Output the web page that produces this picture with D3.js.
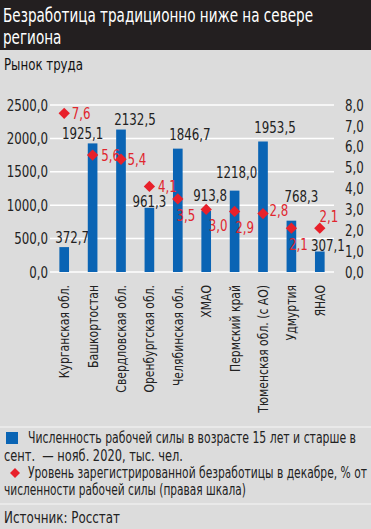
<!DOCTYPE html>
<html>
<head>
<meta charset="utf-8">
<script src="https://cdn.jsdelivr.net/npm/d3@7"></script>
<style>
  body { margin: 0; background: #dcdcdc; }
  svg text { font-family: "DejaVu Sans Condensed", "Liberation Sans Narrow", "Roboto", sans-serif; }
</style>
</head>
<body>
<script>
var regions = ["Курганская обл.", "Башкортостан", "Свердловская обл.", "Оренбургская обл.",
    "Челябинская обл.", "ХМАО", "Пермский край", "Тюменская обл.  (с АО)", "Удмуртия", "ЯНАО"];
var labour = [372.7, 1925.1, 2132.5, 961.3, 1846.7, 913.8, 1218.0, 1953.5, 768.3, 307.1];
var unemp = [7.6, 5.6, 5.4, 4.1, 3.5, 3.0, 2.9, 2.8, 2.1, 2.1];
var leftTicks = [0, 500, 1000, 1500, 2000, 2500];
var rightTicks = [0, 1, 2, 3, 4, 5, 6, 7, 8];

// подписи сдвинуты вручную, как в оригинале
var barLabelShift = [[8, -10], [-10, -10], [14, -10], [0, -6], [12, -14], [4, -16], [2, -18], [12, -14], [10, -24], [8, -6]];
var dotLabelShift = [[17, 0], [18, 0], [16, 0], [18, 0], [8, 16], [12, 16], [10, 16], [16, -3], [7, 16], [9, -12]];

var W = 371, H = 529;
var fmt = function(v, n){ return v.toFixed(n).replace(".", ","); };

// сжимаем шрифт по горизонтали (в оригинале узкий шрифт)
function squish(sel, k){
    sel.each(function(){
        var l = this.getComputedTextLength();
        d3.select(this).attr("textLength", l * k).attr("lengthAdjust", "spacingAndGlyphs");
    });
}
function fitTo(sel, w){
    sel.attr("textLength", w).attr("lengthAdjust", "spacingAndGlyphs");
}

var svg = d3.select("body").append("svg")
    .attr("width", W)
    .attr("height", H);

svg.append("rect").attr("width", W).attr("height", H).attr("fill", "#dcdcdc");

// шапка
svg.append("rect").attr("width", W).attr("height", 50).attr("fill", "#231f20");
var t1 = svg.append("text").text("Безработица традиционно ниже на севере")
    .attr("x", 3).attr("y", 22).attr("fill", "#fff").attr("font-size", 20);
var k = 310 / t1.node().getComputedTextLength();
fitTo(t1, 310);
squish(svg.append("text").text("региона")
    .attr("x", 3).attr("y", 44).attr("fill", "#fff").attr("font-size", 20), k);
fitTo(svg.append("text").text("Рынок труда")
    .attr("x", 4).attr("y", 70).attr("fill", "#111").attr("font-size", 16), 79);

var x = d3.scaleBand().domain(regions).range([50, 334]).paddingInner(0.66).paddingOuter(0.33);
var yL = d3.scaleLinear().domain([0, 2500]).range([272, 105]);
var yR = d3.scaleLinear().domain([0, 8]).range([272, 105]);

// сетка
svg.append("g").selectAll("line")
    .data(leftTicks)
    .enter().append("line")
    .attr("x1", 50).attr("x2", 334)
    .attr("y1", function(d){ return yL(d); })
    .attr("y2", function(d){ return yL(d); })
    .attr("stroke", "#fff").attr("stroke-width", 1.5);

var axL = svg.append("g").attr("transform", "translate(48,0)")
    .call(d3.axisLeft(yL).tickValues(leftTicks).tickSize(0).tickPadding(0)
        .tickFormat(function(d){ return fmt(d, 1); }));
var axR = svg.append("g").attr("transform", "translate(345,0)")
    .call(d3.axisRight(yR).tickValues(rightTicks).tickSize(0).tickPadding(0)
        .tickFormat(function(d){ return fmt(d, 1); }));
[axL, axR].forEach(function(a){
    a.select(".domain").remove();
    a.selectAll("text").attr("font-size", 16).attr("fill", "#222")
        .style("font-family", "'DejaVu Sans Condensed', sans-serif");
    squish(a.selectAll("text"), 0.82);
});

// столбцы
svg.append("g").selectAll("rect")
    .data(labour)
    .enter().append("rect")
    .attr("x", function(d, i){ return x(regions[i]); })
    .attr("width", x.bandwidth())
    .attr("y", function(d){ return yL(d); })
    .attr("height", function(d){ return yL(0) - yL(d); })
    .attr("fill", "#0a64b4");

squish(svg.append("g").selectAll("text")
    .data(labour)
    .enter().append("text")
    .text(function(d){ return fmt(d, 1); })
    .attr("x", function(d, i){ return x(regions[i]) + x.bandwidth() / 2 + barLabelShift[i][0]; })
    .attr("y", function(d, i){ return yL(d) + barLabelShift[i][1]; })
    .attr("dy", "0.35em")
    .attr("text-anchor", "middle")
    .attr("font-size", 16)
    .attr("fill", "#222"), 0.82);

// ромбы
var cx = function(i){ return x(regions[i]) + x.bandwidth() / 2; };
svg.append("g").selectAll("path")
    .data(unemp)
    .enter().append("path")
    .attr("d", d3.symbol(d3.symbolSquare, 64))
    .attr("transform", function(d, i){ return "translate(" + cx(i) + "," + yR(d) + ") rotate(45)"; })
    .attr("fill", "#e8202a");

squish(svg.append("g").selectAll("text")
    .data(unemp)
    .enter().append("text")
    .text(function(d){ return fmt(d, 1); })
    .attr("x", function(d, i){ return cx(i) + dotLabelShift[i][0]; })
    .attr("y", function(d, i){ return yR(d) + dotLabelShift[i][1]; })
    .attr("dy", "0.35em")
    .attr("text-anchor", "middle")
    .attr("font-size", 16)
    .attr("fill", "#e0262e"), 0.82);

// подписи категорий
squish(svg.append("g").selectAll("text")
    .data(regions)
    .enter().append("text")
    .text(function(d){ return d; })
    .attr("transform", function(d){ return "translate(" + (x(d) + x.bandwidth() / 2 + 5) + ",285) rotate(-90)"; })
    .attr("text-anchor", "end")
    .attr("font-size", 14)
    .attr("fill", "#222"), 0.86);

// легенда
svg.append("line").attr("x1", 0).attr("x2", W).attr("y1", 427).attr("y2", 427)
    .attr("stroke", "#eee").attr("stroke-width", 1.5);
svg.append("line").attr("x1", 0).attr("x2", W).attr("y1", 504).attr("y2", 504)
    .attr("stroke", "#eee").attr("stroke-width", 1.5);

svg.append("rect").attr("x", 6).attr("y", 432).attr("width", 12).attr("height", 12).attr("fill", "#0a64b4");
svg.append("path").attr("d", d3.symbol(d3.symbolSquare, 50))
    .attr("transform", "translate(15,473) rotate(45)").attr("fill", "#e8202a");

var legendLines = [
    ["Численность рабочей силы в возрасте 15 лет и старше в", 28, 443, 328],
    ["сент.  — нояб. 2020, тыс. чел.", 4, 461, 179],
    ["Уровень зарегистрированной безработицы в декабре, % от", 28, 478, 339],
    ["численности рабочей силы (правая шкала)", 4, 495, 242]
];
svg.append("g").selectAll("text")
    .data(legendLines)
    .enter().append("text")
    .text(function(d){ return d[0]; })
    .attr("x", function(d){ return d[1]; })
    .attr("y", function(d){ return d[2]; })
    .attr("textLength", function(d){ return d[3]; })
    .attr("lengthAdjust", "spacingAndGlyphs")
    .attr("font-size", 15)
    .attr("fill", "#222")
    .style("white-space", "pre");

fitTo(svg.append("text").text("Источник: Росстат")
    .attr("x", 4).attr("y", 523).attr("font-size", 15).attr("fill", "#222"), 116);
</script>
</body>
</html>
